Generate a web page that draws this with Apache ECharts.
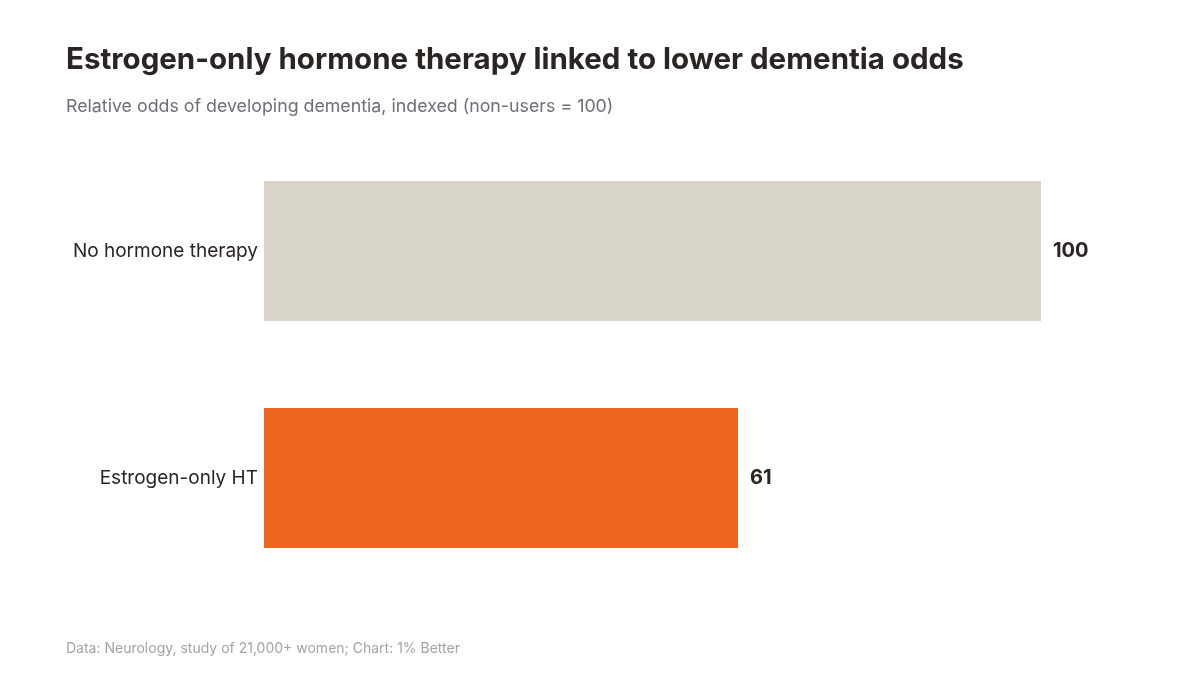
<!DOCTYPE html>
<html>
<head>
<meta charset="utf-8">
<script src="https://cdn.jsdelivr.net/npm/echarts@6/dist/echarts.min.js"></script>
<style>
html,body{margin:0;padding:0;background:#fff;}
#chart{width:1200px;height:675px;}
</style>
</head>
<body>
<div id="chart"></div>
<script>
const categories = ["No hormone therapy", "Estrogen-only HT"];
const values = [100, 61];
const barColors = ["#d9d4ca", "#ec661f"];

const chart = echarts.init(document.getElementById('chart'));
chart.setOption({
  backgroundColor: '#ffffff',
  animation: false,
  title: [
    {
      text: 'Estrogen-only hormone therapy linked to lower dementia odds',
      left: 61, top: 40, padding: [5, 5, 5, 5],
      textStyle: { fontFamily: 'Inter', fontWeight: 'bold', fontSize: 29.5, color: '#2a2522' }
    },
    {
      text: 'Relative odds of developing dementia, indexed (non-users = 100)',
      left: 61, top: 93,
      textStyle: { fontFamily: 'Inter', fontWeight: 'normal', fontSize: 17.8, color: '#6e6e76' }
    },
    {
      text: 'Data: Neurology, study of 21,000+ women; Chart: 1% Better',
      left: 61, top: 637,
      textStyle: { fontFamily: 'Inter', fontWeight: 'normal', fontSize: 14, color: '#a3a3aa' }
    }
  ],
  grid: { left: 264, right: 159, top: 137.5, bottom: 83.5, containLabel: false },
  xAxis: {
    type: 'value', min: 0, max: 100, show: false
  },
  yAxis: {
    type: 'category', data: categories, inverse: true,
    axisLine: { show: false }, axisTick: { show: false },
    axisLabel: { fontFamily: 'Inter', fontSize: 19, color: '#2a2522', margin: 6 }
  },
  series: [{
    type: 'bar',
    data: values.map((v, i) => ({ value: v, itemStyle: { color: barColors[i] } })),
    barWidth: 140,
    label: {
      show: true, position: 'right', distance: 12,
      fontFamily: 'Inter', fontWeight: 'bold', fontSize: 20, color: '#2a2522'
    }
  }]
});
</script>
</body>
</html>
